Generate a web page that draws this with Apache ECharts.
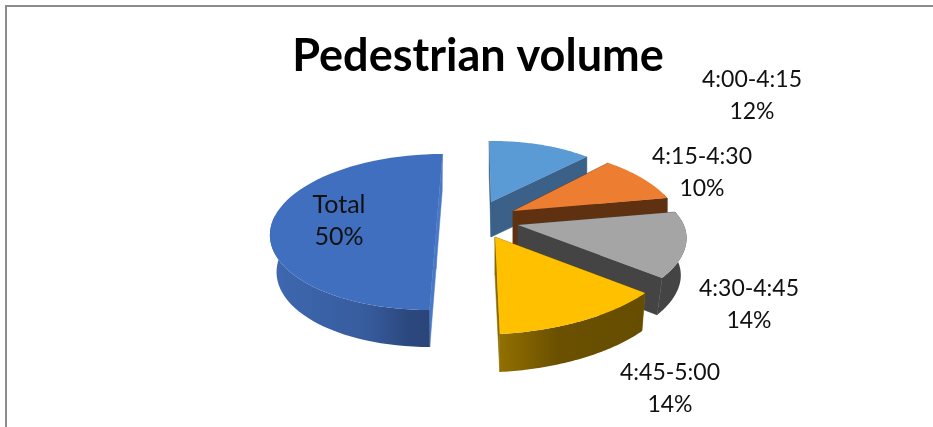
<!DOCTYPE html>
<html>
<head>
<meta charset="utf-8">
<script src="https://cdn.jsdelivr.net/npm/echarts@6/dist/echarts.min.js"></script>
<style>html,body{margin:0;padding:0;background:#fff}#c{width:933px;height:427px}</style>
</head>
<body>
<div id="c"></div>
<script>
const categories = ['4:00-4:15', '4:15-4:30', '4:30-4:45', '4:45-5:00', 'Total'];
const shares = [12, 10, 14, 14, 50];

// Drawing styles, per slice
const topColors = ['#5B9BD5', '#ED7D31', '#A5A5A5', '#FFC000', '#3F6FBE'];
const wallColors = ['#3B6188', '#5F3111', '#444444', '#8A6A00', '#4A78C6'];
const outerWall = [
  [[0, '#3B6188'], [1, '#3B6188']],
  [[0, '#5F3111'], [1, '#5F3111']],
  [[0, '#444444'], [1, '#444444']],
  [[0, '#917000'], [0.4, '#6B5000'], [1, '#664D00']],
  [[0, '#3E68B0'], [0.6, '#375C9E'], [0.85, '#2C4980'], [1, '#2A4578']]
];
// Exploded perspective view: apex, radii at start/end of the arc, shear, extrusion depth, base shrink
const views = [
  {cx: 491, cy: 202, rx: [140, 142], ry: [61, 62], k: 0.03, d: 35, s: 1},
  {cx: 513, cy: 211, rx: [139, 157], ry: [66, 69], k: 0, d: 35, s: 1},
  {cx: 518, cy: 225, rx: [160, 187], ry: [69, 83], k: 0, d: 37, s: 0.966},
  {cx: 495, cy: 237, rx: [191, 200], ry: [88, 97], k: 0.05, d: 38, s: 0.98},
  {cx: 436, cy: 232, rx: [166, 166], ry: [78, 78], k: -0.083, d: 37, s: 0.96}
];
const labelSpots = [[752, 96], [702, 173], [749, 305], [670, 389], [339, 221]];
const labelFonts = ['23px Lato', '23px Lato', '23px Lato', '23px Lato', '25px Lato'];

const sum = shares.reduce((a, b) => a + b, 0);

function renderSlice(params, api) {
  const i = params.dataIndex;
  const v = views[i];
  let before = 0;
  for (let j = 0; j < i; j++) before += shares[j];
  const a0 = before / sum * Math.PI * 2;
  const a1 = (before + api.value(0)) / sum * Math.PI * 2;
  const steps = 60;
  const arc = [], low = [], wallTop = [], wallLow = [];
  for (let s = 0; s <= steps; s++) {
    const t = s / steps;
    const a = a0 + (a1 - a0) * t;
    const rx = v.rx[0] + (v.rx[1] - v.rx[0]) * t;
    const ry = v.ry[0] + (v.ry[1] - v.ry[0]) * t;
    const off = -ry * Math.cos(a);
    const x = v.cx + rx * Math.sin(a) + v.k * off;
    const y = v.cy + off;
    const under = [v.cx + (x - v.cx) * v.s, y + v.d];
    arc.push([x, y]);
    low.push(under);
    // only the part of the rim that faces the viewer gets an outer wall
    if (Math.cos(a) < 0.25) {
      wallTop.push([x, y]);
      wallLow.push(under);
    }
  }
  const apex = [v.cx, v.cy];
  const apexLow = [v.cx, v.cy + v.d];
  const first = arc[0], last = arc[steps];
  const edgeStroke = {stroke: wallColors[i], lineWidth: 0.5};
  const children = [
    {type: 'polygon', shape: {points: [apex, first, low[0], apexLow]}, style: Object.assign({fill: wallColors[i]}, edgeStroke)},
    {type: 'polygon', shape: {points: [apex, last, low[steps], apexLow]}, style: Object.assign({fill: wallColors[i]}, edgeStroke)},
    {type: 'polygon', shape: {points: wallTop.concat(wallLow.slice().reverse())},
      style: {fill: new echarts.graphic.LinearGradient(0, 0, 1, 0,
        outerWall[i].map(p => ({offset: p[0], color: p[1]})))}},
    {type: 'polygon', shape: {points: [apex].concat(arc)}, style: {fill: topColors[i]}},
    {type: 'text', x: labelSpots[i][0], y: labelSpots[i][1],
      style: {text: categories[i] + '\n' + api.value(0) + '%', fill: '#111', font: labelFonts[i], align: 'center', verticalAlign: 'middle', lineHeight: 32}}
  ];
  return {type: 'group', children};
}

const chart = echarts.init(document.getElementById('c'));
chart.setOption({
  animation: false,
  backgroundColor: '#fff',
  title: {text: 'Pedestrian volume', left: 473, top: 29, textAlign: 'center',
    textStyle: {fontFamily: 'Lato', fontWeight: 'bold', fontSize: 45, color: '#000'}},
  graphic: [
    {type: 'line', shape: {x1: 5, y1: 6, x2: 933, y2: 6}, style: {stroke: '#8c8c8c', lineWidth: 2}},
    {type: 'line', shape: {x1: 6, y1: 5, x2: 6, y2: 427}, style: {stroke: '#8c8c8c', lineWidth: 2}}
  ],
  series: [{type: 'custom', coordinateSystem: 'none', renderItem: renderSlice, data: shares.map(s => [s])}]
});
</script>
</body>
</html>
